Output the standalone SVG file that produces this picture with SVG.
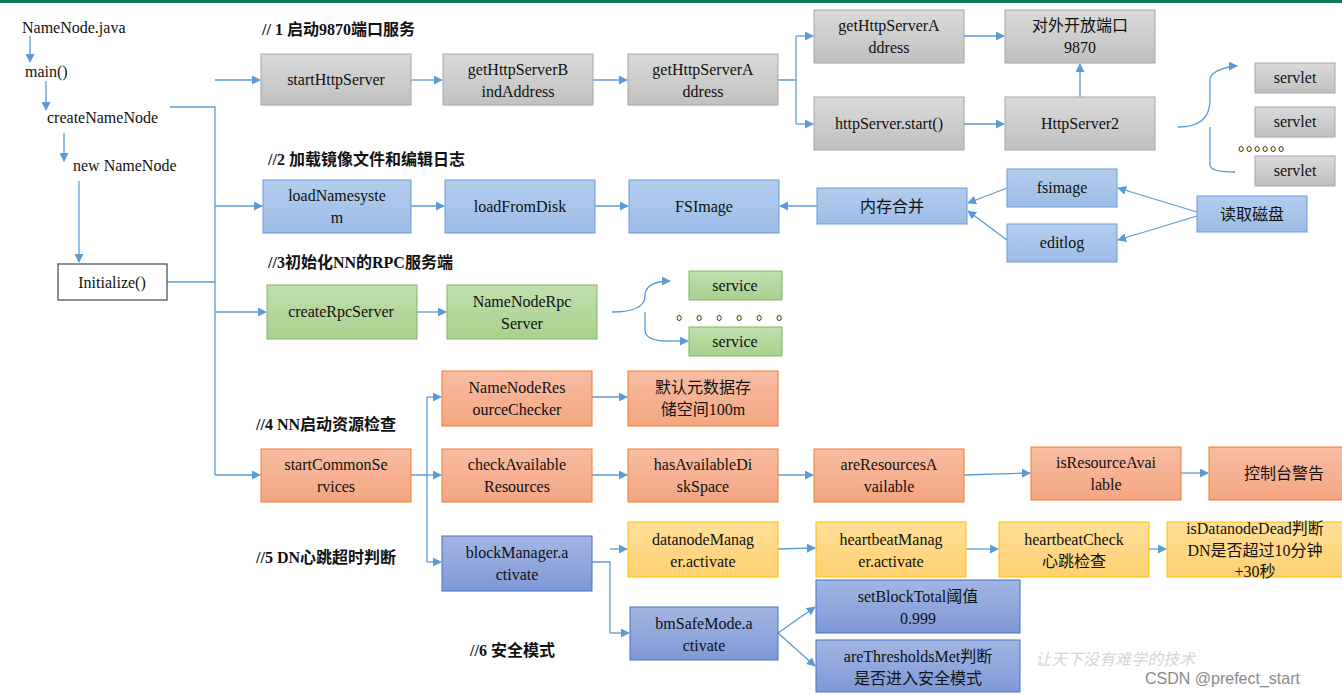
<svg xmlns="http://www.w3.org/2000/svg" width="1342" height="695" viewBox="0 0 1342 695" font-family="'Liberation Serif','Times New Roman','DejaVu Serif','Noto Sans CJK SC',serif">
<defs>
<linearGradient id="gg" x1="0" y1="0" x2="0" y2="1"><stop offset="0" stop-color="#dadada"/><stop offset="1" stop-color="#c0c0c0"/></linearGradient>
<linearGradient id="gb" x1="0" y1="0" x2="0" y2="1"><stop offset="0" stop-color="#b4cdee"/><stop offset="1" stop-color="#9dbce6"/></linearGradient>
<linearGradient id="gn" x1="0" y1="0" x2="0" y2="1"><stop offset="0" stop-color="#c0dfae"/><stop offset="1" stop-color="#a9d08e"/></linearGradient>
<linearGradient id="go" x1="0" y1="0" x2="0" y2="1"><stop offset="0" stop-color="#f8bda2"/><stop offset="1" stop-color="#f4a582"/></linearGradient>
<linearGradient id="gp" x1="0" y1="0" x2="0" y2="1"><stop offset="0" stop-color="#a3b5e2"/><stop offset="1" stop-color="#7f98d6"/></linearGradient>
<linearGradient id="gy" x1="0" y1="0" x2="0" y2="1"><stop offset="0" stop-color="#ffe09a"/><stop offset="1" stop-color="#ffd070"/></linearGradient>
<marker id="a" viewBox="0 0 10 10" refX="9" refY="5" markerWidth="9" markerHeight="9" markerUnits="userSpaceOnUse" orient="auto"><path d="M0,0L10,5L0,10z" fill="#5b9bd5"/></marker>
</defs>
<style>
text{font-family:'Liberation Serif','Times New Roman','DejaVu Serif','Noto Sans CJK SC',serif;font-size:16px;fill:#111}
.c{text-anchor:middle}
.b{font-weight:bold}
.g{fill:url(#gg);stroke:#a6a6a6}
.bl{fill:url(#gb);stroke:#6a9bd8}
.gr{fill:url(#gn);stroke:#82b366}
.o{fill:url(#go);stroke:#ed7d31}
.p{fill:url(#gp);stroke:#4472c4}
.y{fill:url(#gy);stroke:#ffc000}
.l{fill:none;stroke:#5b9bd5;stroke-width:1.3}
.la{fill:none;stroke:#5b9bd5;stroke-width:1.3;marker-end:url(#a)}
</style>
<rect width="1342" height="695" fill="#fff"/>
<rect x="0" y="0" width="1342" height="3" fill="#0b7a5c"/>

<g id="labels">
<text x="22" y="33">NameNode.java</text>
<text x="25" y="77">main()</text>
<text x="47" y="123">createNameNode</text>
<text x="73" y="171">new NameNode</text>
<text x="262" y="35" class="b">// 1 启动9870端口服务</text>
<text x="268" y="165" class="b">//2 加载镜像文件和编辑日志</text>
<text x="268" y="268" class="b">//3初始化NN的RPC服务端</text>
<text x="256" y="430" class="b">//4 NN启动资源检查</text>
<text x="256" y="563" class="b">//5 DN心跳超时判断</text>
<text x="470" y="656" class="b">//6 安全模式</text>
<text x="1238" y="150" font-size="10">。。。。。。</text>
<text x="676" y="319" font-size="11">。 。 。 。 。 。</text>
</g>

<g id="connectors">
<path class="la" d="M30,36V62"/>
<path class="la" d="M46,81V110"/>
<path class="la" d="M64,133V161"/>
<path class="la" d="M79,181V262"/>
<path class="l" d="M170,107H215V475"/>
<path class="l" d="M167,282H215"/>
<path class="la" d="M215,80H260"/>
<path class="la" d="M215,206H262"/>
<path class="la" d="M215,312H266"/>
<path class="la" d="M215,475H260"/>
<path class="la" d="M411,80H442"/>
<path class="la" d="M593,80H627"/>
<path class="l" d="M778,80H796V36M796,80V124"/>
<path class="la" d="M796,36H813"/>
<path class="la" d="M796,124H813"/>
<path class="la" d="M964,36H1004"/>
<path class="la" d="M964,124H1004"/>
<path class="la" d="M1080,97V64"/>
<path class="l" d="M1178,127Q1210,127 1210,100V80Q1210,70 1235,66"/>
<path class="la" d="M1235,66L1237,66"/>
<path class="l" d="M1210,127V165Q1210,172 1235,172"/>
<path class="la" d="M411,206H444"/>
<path class="la" d="M595,206H628"/>
<path class="la" d="M817,206H780"/>
<path class="la" d="M1007,188L968,203"/>
<path class="la" d="M1007,240L968,211"/>
<path class="la" d="M1197,212L1118,188"/>
<path class="la" d="M1197,216L1118,240"/>
<path class="la" d="M417,312H446"/>
<path class="l" d="M612,312Q645,312 645,296Q645,282 668,281"/>
<path class="la" d="M668,281L670,281"/>
<path class="l" d="M645,312V330Q645,341 668,341"/>
<path class="la" d="M668,341L688,341"/>
<path class="l" d="M411,475H427V562M427,397V475"/>
<path class="la" d="M427,397H441"/>
<path class="la" d="M427,475H441"/>
<path class="la" d="M427,562H441"/>
<path class="la" d="M592,397H627"/>
<path class="la" d="M592,475H627"/>
<path class="la" d="M778,475H813"/>
<path class="la" d="M964,475L1030,473"/>
<path class="la" d="M1181,473H1208"/>
<path class="l" d="M592,562H610V633"/>
<path class="la" d="M610,549H627"/>
<path class="la" d="M610,633H629"/>
<path class="la" d="M778,549L815,548"/>
<path class="la" d="M966,549H998"/>
<path class="la" d="M1149,549H1166"/>
<path class="la" d="M778,633L815,607"/>
<path class="la" d="M778,633L815,666"/>
</g>

<g id="initialize"><rect x="58" y="264" width="109" height="36" fill="#fff" stroke="#555" stroke-width="1.3"/><text x="112" y="288" class="c">Initialize()</text></g>

<g id="startHttpServer"><rect class="g" x="261" y="54" width="150" height="51"/><text x="336" y="85" class="c">startHttpServer</text></g>
<g id="getHttpServerBindAddress"><rect class="g" x="443" y="54" width="150" height="51"/><text x="518" y="75" class="c">getHttpServerB</text><text x="518" y="97" class="c">indAddress</text></g>
<g id="getHttpServerAddress"><rect class="g" x="628" y="54" width="150" height="51"/><text x="703" y="75" class="c">getHttpServerA</text><text x="703" y="97" class="c">ddress</text></g>
<g id="getHttpServerAddress2"><rect class="g" x="814" y="10" width="150" height="53"/><text x="889" y="31" class="c">getHttpServerA</text><text x="889" y="53" class="c">ddress</text></g>
<g id="port9870"><rect class="g" x="1005" y="10" width="150" height="53"/><text x="1080" y="31" class="c">对外开放端口</text><text x="1080" y="53" class="c">9870</text></g>
<g id="httpServerStart"><rect class="g" x="814" y="97" width="150" height="53"/><text x="889" y="129" class="c">httpServer.start()</text></g>
<g id="httpServer2"><rect class="g" x="1005" y="97" width="150" height="53"/><text x="1080" y="129" class="c">HttpServer2</text></g>
<g id="servlet1"><rect class="g" x="1255" y="63" width="80" height="30"/><text x="1295" y="83" class="c">servlet</text></g>
<g id="servlet2"><rect class="g" x="1255" y="107" width="80" height="30"/><text x="1295" y="127" class="c">servlet</text></g>
<g id="servlet3"><rect class="g" x="1255" y="156" width="80" height="30"/><text x="1295" y="176" class="c">servlet</text></g>

<g id="loadNamesystem"><rect class="bl" x="263" y="180" width="148" height="53"/><text x="337" y="201" class="c">loadNamesyste</text><text x="337" y="223" class="c">m</text></g>
<g id="loadFromDisk"><rect class="bl" x="445" y="180" width="150" height="53"/><text x="520" y="212" class="c">loadFromDisk</text></g>
<g id="fsimageBox"><rect class="bl" x="629" y="180" width="150" height="53"/><text x="704" y="212" class="c">FSImage</text></g>
<g id="merge"><rect class="bl" x="817" y="188" width="150" height="36"/><text x="892" y="212" class="c">内存合并</text></g>
<g id="fsimage"><rect class="bl" x="1007" y="169" width="110" height="38"/><text x="1062" y="193" class="c">fsimage</text></g>
<g id="editlog"><rect class="bl" x="1007" y="224" width="110" height="38"/><text x="1062" y="248" class="c">editlog</text></g>
<g id="readDisk"><rect class="bl" x="1197" y="196" width="110" height="36"/><text x="1252" y="220" class="c">读取磁盘</text></g>

<g id="createRpcServer"><rect class="gr" x="267" y="285" width="150" height="54"/><text x="341" y="317" class="c" font-size="15">createRpcServer</text></g>
<g id="nameNodeRpcServer"><rect class="gr" x="447" y="285" width="150" height="54"/><text x="522" y="307" class="c">NameNodeRpc</text><text x="522" y="329" class="c">Server</text></g>
<g id="service1"><rect class="gr" x="689" y="271" width="93" height="29"/><text x="735" y="291" class="c">service</text></g>
<g id="service2"><rect class="gr" x="689" y="327" width="93" height="29"/><text x="735" y="347" class="c">service</text></g>

<g id="resourceChecker"><rect class="o" x="442" y="371" width="150" height="55"/><text x="517" y="393" class="c">NameNodeRes</text><text x="517" y="415" class="c">ourceChecker</text></g>
<g id="default100m"><rect class="o" x="628" y="371" width="150" height="55"/><text x="703" y="393" class="c">默认元数据存</text><text x="703" y="415" class="c">储空间100m</text></g>
<g id="startCommonServices"><rect class="o" x="261" y="449" width="150" height="53"/><text x="336" y="470" class="c">startCommonSe</text><text x="336" y="492" class="c">rvices</text></g>
<g id="checkAvailableResources"><rect class="o" x="442" y="449" width="150" height="53"/><text x="517" y="470" class="c">checkAvailable</text><text x="517" y="492" class="c">Resources</text></g>
<g id="hasAvailableDiskSpace"><rect class="o" x="628" y="449" width="150" height="53"/><text x="703" y="470" class="c">hasAvailableDi</text><text x="703" y="492" class="c">skSpace</text></g>
<g id="areResourcesAvailable"><rect class="o" x="814" y="449" width="150" height="53"/><text x="889" y="470" class="c">areResourcesA</text><text x="889" y="492" class="c">vailable</text></g>
<g id="isResourceAvailable"><rect class="o" x="1031" y="447" width="150" height="53"/><text x="1106" y="468" class="c">isResourceAvai</text><text x="1106" y="490" class="c">lable</text></g>
<g id="consoleWarn"><rect class="o" x="1209" y="447" width="140" height="53"/><text x="1284" y="479" class="c">控制台警告</text></g>

<g id="blockManager"><rect class="p" x="442" y="536" width="150" height="55"/><text x="517" y="558" class="c">blockManager.a</text><text x="517" y="580" class="c">ctivate</text></g>
<g id="datanodeManager"><rect class="y" x="628" y="522" width="150" height="55"/><text x="703" y="545" class="c">datanodeManag</text><text x="703" y="567" class="c">er.activate</text></g>
<g id="heartbeatManager"><rect class="y" x="816" y="522" width="150" height="55"/><text x="891" y="545" class="c">heartbeatManag</text><text x="891" y="567" class="c">er.activate</text></g>
<g id="heartbeatCheck"><rect class="y" x="999" y="522" width="150" height="55"/><text x="1074" y="545" class="c">heartbeatCheck</text><text x="1074" y="567" class="c">心跳检查</text></g>
<g id="isDatanodeDead"><rect class="y" x="1167" y="522" width="180" height="55"/><text x="1255" y="534" class="c">isDatanodeDead判断</text><text x="1255" y="556" class="c">DN是否超过10分钟</text><text x="1255" y="577" class="c">+30秒</text></g>
<g id="bmSafeMode"><rect class="p" x="630" y="607" width="148" height="53"/><text x="704" y="629" class="c">bmSafeMode.a</text><text x="704" y="651" class="c">ctivate</text></g>
<g id="setBlockTotal"><rect class="p" x="816" y="580" width="204" height="53"/><text x="918" y="602" class="c">setBlockTotal阈值</text><text x="918" y="624" class="c">0.999</text></g>
<g id="areThresholdsMet"><rect class="p" x="816" y="640" width="204" height="52"/><text x="918" y="662" class="c">areThresholdsMet判断</text><text x="918" y="684" class="c">是否进入安全模式</text></g>

<g id="watermark">
<text x="1035" y="665" font-size="26" style="fill:#d6d6d6;font-style:italic">让天下没有难学的技术</text>
<text x="1145" y="684" style="font-family:'Liberation Sans',sans-serif;fill:#8a8a8a;font-size:16px">CSDN @prefect_start</text>
</g>
</svg>
